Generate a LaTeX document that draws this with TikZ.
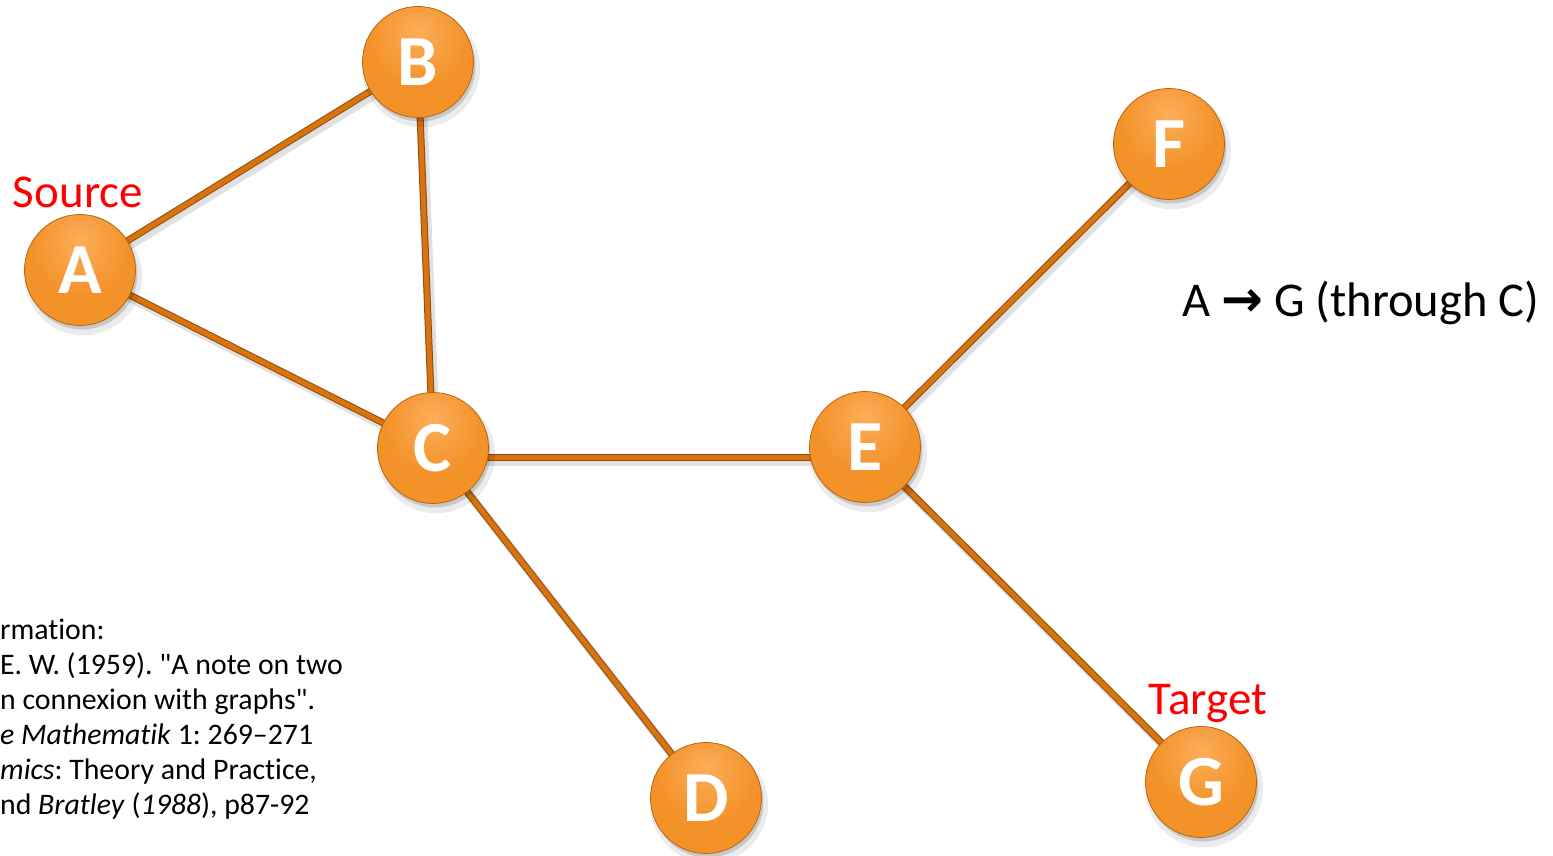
\documentclass[tikz,border=0pt]{standalone}
\usepackage{fontspec}
\setmainfont{Carlito}[Ligatures={TeXOff,CommonOff}]
\newfontfamily\symfont{DejaVu Sans}
\usetikzlibrary{shadows}
\pgfdeclarelayer{background}
\pgfsetlayers{background,main}
\definecolor{edgeor}{HTML}{D9730D}
\definecolor{edgedk}{HTML}{8E4C10}
\definecolor{nodelt}{HTML}{FBAE5A}
\definecolor{nodemid}{HTML}{F4922A}
\definecolor{nodedk}{HTML}{DE7816}
\definecolor{noderim}{HTML}{B8650F}
\pgfdeclareradialshading{nodeball}{\pgfpoint{0bp}{14bp}}{%
  color(0bp)=(nodelt); color(22bp)=(nodemid); color(48bp)=(nodemid); color(62bp)=(nodedk); color(100bp)=(nodedk)}
\begin{document}
\frenchspacing
\begin{tikzpicture}[x=1pt,y=-1pt,
  vertex/.style={circle, minimum size=111pt, inner sep=0pt, draw=noderim, line width=0.8pt,
    shading=nodeball, text=white,
    general shadow={fill=black, opacity=0.08, shadow xshift=3pt, shadow yshift=-6pt, shadow scale=1.06},
    general shadow={fill=black, opacity=0.15, shadow xshift=2pt, shadow yshift=-4pt},
    font=\fontsize{72}{72}\selectfont\bfseries},
  lbl/.style={text=red, inner sep=0pt, font=\fontsize{47}{56}\selectfont},
  ref/.style={anchor=base west, inner sep=0pt, font=\fontsize{29.8}{35}\selectfont},
  edgeshadow/.style={draw=black, opacity=0.12, line width=9pt, transform canvas={xshift=3pt,yshift=-4pt}},
  edgeback/.style={draw=edgedk, line width=7pt},
  edgefront/.style={draw=edgeor, line width=5pt}]
\useasboundingbox (0,0) rectangle (1553,856);
\node[vertex] (A) at (80,270) {A};
\node[vertex] (B) at (418,62) {B};
\node[vertex] (C) at (433,448) {C};
\node[vertex] (D) at (706,798) {D};
\node[vertex] (E) at (865,447) {E};
\node[vertex] (F) at (1169,144) {F};
\node[vertex] (G) at (1201,782) {G};
\begin{pgfonlayer}{background}
\foreach \st in {edgeshadow,edgeback,edgefront}{
  \draw[\st] (A.center) -- (B.center);
  \draw[\st] (A.center) -- (C.center);
  \draw[\st] (B.center) -- (C.center);
  \draw[\st] ([yshift=-9pt]C.center) -- ([yshift=-10pt]E.center);
  \draw[\st] (C.center) -- (D.center);
  \draw[\st] (E.center) -- (F.center);
  \draw[\st] (E.center) -- (G.center);
}
\end{pgfonlayer}
\node[lbl] (src) at (78,192) {Source};
\node[lbl] (tgt) at (1208,703) {Target};
\node[anchor=west, inner sep=0pt, font=\fontsize{48.5}{56}\selectfont] (path) at (1182,303)
  {A {\symfont\bfseries\fontsize{50}{56}\selectfont →} G (through C)};
\node[ref] (r1) at (0,639) {rmation:};
\node[ref] (r2) at (0,674) {E. W. (1959). "A note on two};
\node[ref] (r3) at (0,709) {n connexion with graphs".};
\node[ref] (r4) at (0,744) {\textit{e Mathematik} 1: 269–271};
\node[ref] (r5) at (0,779) {\textit{mics}: Theory and Practice,};
\node[ref] (r6) at (0,814) {nd \textit{Bratley} (\textit{1988}), p87-92};
\end{tikzpicture}
\end{document}
